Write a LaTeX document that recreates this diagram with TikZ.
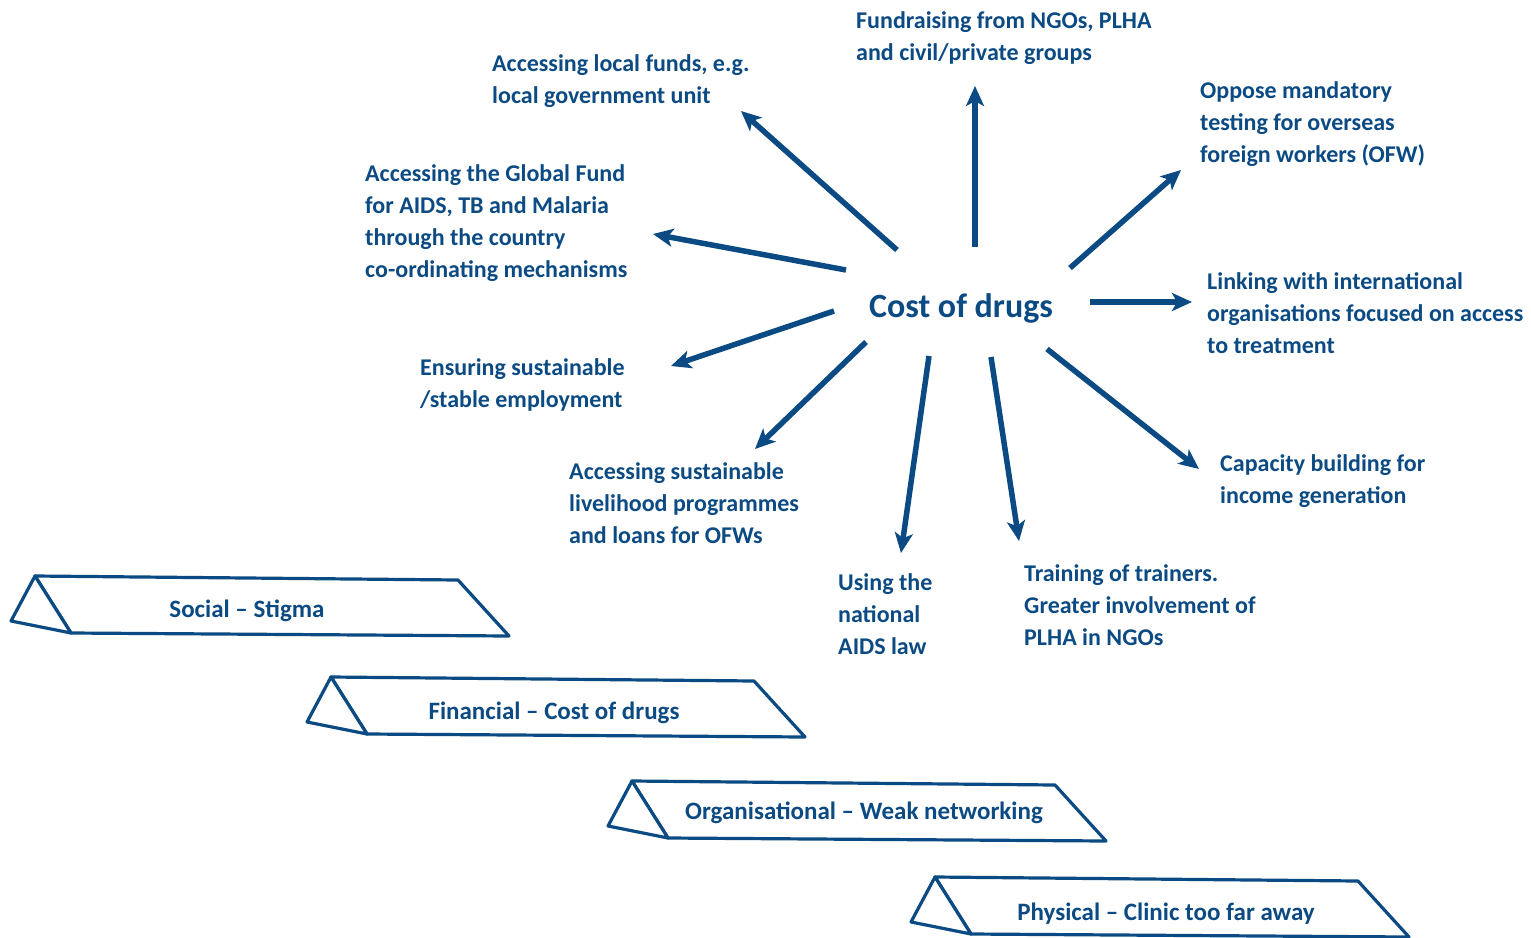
\documentclass[tikz,border=0pt]{standalone}
\usepackage{fontspec}
\setmainfont{Carlito}
\usetikzlibrary{arrows.meta}
\definecolor{dblue}{HTML}{0B4A82}
\begin{document}
\begin{tikzpicture}[x=1pt,y=-1pt,
  lbl/.style={anchor=north west,align=left,inner sep=0pt,text=dblue,font=\fontsize{24}{32}\selectfont\bfseries},
  conn/.style={draw=dblue,line width=5.5pt,-{Stealth[length=20pt,width=18pt,inset=5pt]}},
  wedge/.style={draw=dblue,line width=3.2pt,line join=round,fill=white},
  wlbl/.style={text=dblue,font=\fontsize{25}{30}\selectfont\bfseries,inner sep=0pt}]
\useasboundingbox (0,0) rectangle (1531,937);
% centre
\node[text=dblue,font=\fontsize{34}{40}\selectfont\bfseries,inner sep=0pt] (cost) at (961,308) {Cost of drugs};
% labels
\node[lbl] (l1) at (492,54) {Accessing local funds, e.g.\\local government unit};
\node[lbl] (l2) at (856,11) {Fundraising from NGOs, PLHA\\and civil/private groups};
\node[lbl] (l3) at (1200,81) {Oppose mandatory\\testing for overseas\\foreign workers (OFW)};
\node[lbl] (l4) at (365,164) {Accessing the Global Fund\\for AIDS, TB and Malaria\\through the country\\co-ordinating mechanisms};
\node[lbl] (l5) at (1207,272) {Linking with international\\organisations focused on access\\to treatment};
\node[lbl] (l6) at (420,358) {Ensuring sustainable\\/stable employment};
\node[lbl] (l7) at (569,462) {Accessing sustainable\\livelihood programmes\\and loans for OFWs};
\node[lbl] (l8) at (1220,454) {Capacity building for\\income generation};
\node[lbl] (l9) at (838,573) {Using the\\national\\AIDS law};
\node[lbl] (l10) at (1024,564) {Training of trainers.\\Greater involvement of\\PLHA in NGOs};
% arrow endpoints
\coordinate (s1) at (897,250); \coordinate (e1) at (741,111);
\coordinate (s2) at (975,247); \coordinate (e2) at (975,86);
\coordinate (s3) at (1070,268); \coordinate (e3) at (1181,170);
\coordinate (s4) at (846,270); \coordinate (e4) at (653,234);
\coordinate (s5) at (1090,302); \coordinate (e5) at (1192,302);
\coordinate (s6) at (834,311); \coordinate (e6) at (671,366);
\coordinate (s7) at (866,342); \coordinate (e7) at (755,449);
\coordinate (s8) at (929,356); \coordinate (e8) at (901,553);
\coordinate (s9) at (991,357); \coordinate (e9) at (1019,541);
\coordinate (s10) at (1047,349); \coordinate (e10) at (1199,469);
\foreach \i in {1,...,10} {\draw[conn] (s\i) -- (e\i);}
% wedges
\foreach \n/\dx/\dy in {a/0/0,b/296/101,c/597/205,d/900/301} {
  \begin{scope}[shift={(\dx,\dy)}]
    \draw[wedge] (35,576) -- (458,580) -- (509,636) -- (71,633) -- cycle;
    \draw[wedge] (35,576) -- (11,621) -- (71,633) -- cycle;
  \end{scope}
}
\node[wlbl] (w1) at (247,611) {Social -- Stigma};
\node[wlbl] (w2) at (554,713) {Financial -- Cost of drugs};
\node[wlbl] (w3) at (864,813) {Organisational -- Weak networking};
\node[wlbl] (w4) at (1166,914) {Physical -- Clinic too far away};
\end{tikzpicture}
\end{document}
